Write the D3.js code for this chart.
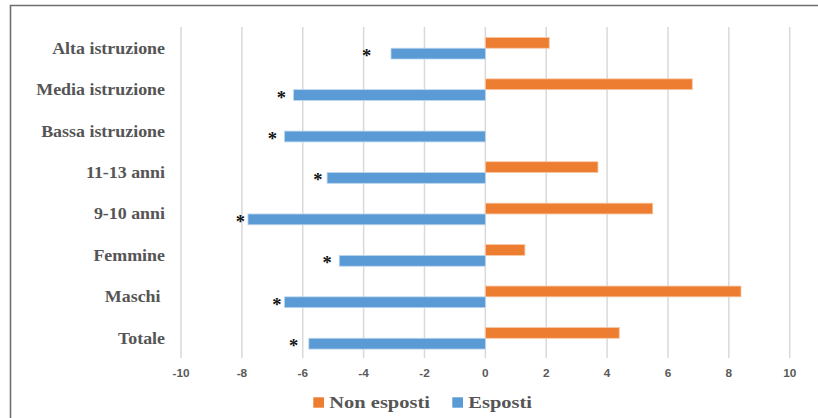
<!DOCTYPE html>
<html>
<head>
<meta charset="utf-8">
<script src="https://cdn.jsdelivr.net/npm/d3@7"></script>
<style>
  html, body { margin: 0; padding: 0; background: #fff; }
  svg { display: block; }
  text { white-space: pre; }
</style>
</head>
<body>
<div id="chart"></div>
<script>
// Categories, top to bottom
const categories = ["Alta istruzione", "Media istruzione", "Bassa istruzione", "11-13 anni", "9-10 anni", "Femmine", "Maschi ", "Totale"];
// Series values
const nonEsposti = [2.1, 6.8, 0, 3.7, 5.5, 1.3, 8.4, 4.4];
const esposti = [-3.1, -6.3, -6.6, -5.2, -7.8, -4.8, -6.6, -5.8];
// Where each significance asterisk sits, in axis units
const asteriskAt = [-3.9, -6.7, -7.0, -5.5, -8.05, -5.2, -6.85, -6.3];
// Axis ticks
const tickValues = [-10, -8, -6, -4, -2, 0, 2, 4, 6, 8, 10];
const seriesNames = ["Non esposti", "Esposti"];
const seriesColors = ["#ED7D31", "#5B9BD5"];

const W = 818, H = 418;
const svg = d3.select("#chart").append("svg").attr("width", W).attr("height", H);

const x = d3.scaleLinear().domain([-10, 10]).range([181, 789.7]);
const y = d3.scaleBand().domain(categories).range([27.5, 359]).paddingInner(0).paddingOuter(0);
const barH = 10.8;

// Outer frame (top and left edges)
svg.append("path")
  .attr("d", `M10.5,${H} V5.5 H${W}`)
  .attr("fill", "none").attr("stroke", "#6f6f6f").attr("stroke-width", 1.6);

// Vertical gridlines
svg.append("g").selectAll("line").data(tickValues).join("line")
  .attr("x1", d => x(d)).attr("x2", d => x(d))
  .attr("y1", 27).attr("y2", 358)
  .attr("stroke", "#d9d9d9").attr("stroke-width", 1.5);

// Bars
const rows = categories.map((c, i) => ({ c, ne: nonEsposti[i], e: esposti[i], a: asteriskAt[i] }));
const bars = svg.append("g");
bars.selectAll("rect.ne").data(rows).join("rect").attr("class", "ne")
  .attr("x", d => x(Math.min(0, d.ne)))
  .attr("width", d => Math.abs(x(d.ne) - x(0)))
  .attr("y", d => y(d.c) + y.bandwidth() / 2 - barH)
  .attr("height", barH)
  .attr("fill", seriesColors[0])
  .attr("stroke", "#f7c9a8").attr("stroke-width", d => d.ne ? 0.8 : 0);
bars.selectAll("rect.e").data(rows).join("rect").attr("class", "e")
  .attr("x", d => x(Math.min(0, d.e)))
  .attr("width", d => Math.abs(x(d.e) - x(0)))
  .attr("y", d => y(d.c) + y.bandwidth() / 2)
  .attr("height", barH)
  .attr("fill", seriesColors[1])
  .attr("stroke", "#bcd6ee").attr("stroke-width", 0.8);

// Significance asterisks
svg.append("g").selectAll("text").data(rows).join("text")
  .attr("x", d => x(d.a))
  .attr("y", d => y(d.c) + y.bandwidth() / 2 + barH / 2 + 8.5)
  .attr("text-anchor", "middle")
  .attr("font-family", "'Liberation Serif', 'Times New Roman', serif")
  .attr("font-weight", "bold").attr("font-size", 18.5)
  .attr("fill", "#111")
  .text("*");

// Category labels (slightly widened serif)
svg.append("g").selectAll("text").data(categories).join("text")
  .attr("transform", d => `translate(165,${y(d) + y.bandwidth() / 2 + 5.5}) scale(1.12,1)`)
  .attr("text-anchor", "end")
  .attr("font-family", "'Liberation Serif', 'Times New Roman', serif")
  .attr("font-weight", "bold").attr("font-size", 16)
  .attr("fill", "#555")
  .text(d => d);

// Tick labels
svg.append("g").selectAll("text").data(tickValues).join("text")
  .attr("transform", d => `translate(${x(d)},377) scale(1.18,1)`)
  .attr("text-anchor", "middle")
  .attr("font-family", "'Liberation Sans', Arial, sans-serif")
  .attr("font-weight", "bold").attr("font-size", 10)
  .attr("fill", "#595959")
  .text(d => d);

// Legend
const legend = svg.append("g");
const legendX = [313.3, 452.3];
seriesNames.forEach((name, i) => {
  legend.append("rect")
    .attr("x", legendX[i]).attr("y", 397.3)
    .attr("width", 10.7).attr("height", 10.4)
    .attr("fill", seriesColors[i]);
  legend.append("text")
    .attr("transform", `translate(${legendX[i] + 16},408.3) scale(1.17,1)`)
    .attr("font-family", "'Liberation Serif', 'Times New Roman', serif")
    .attr("font-weight", "bold").attr("font-size", 17.5)
    .attr("fill", "#555")
    .text(name);
});
</script>
</body>
</html>
